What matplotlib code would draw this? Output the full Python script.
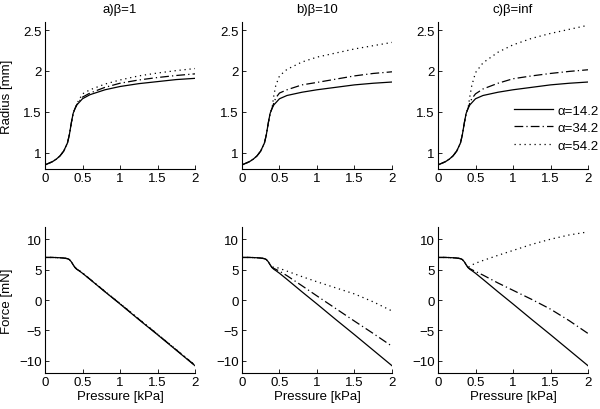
import matplotlib
matplotlib.use("Agg")
import matplotlib.pyplot as plt

plt.rcParams['font.family'] = ['Liberation Sans', 'DejaVu Sans']

titles = ["a)\u03b2=1", "b)\u03b2=10", "c)\u03b2=inf"]
labels = ["\u03b1=14.2", "\u03b1=34.2", "\u03b1=54.2"]

# shared pre-kink part
p_pre = [0.0, 0.05, 0.1, 0.15, 0.2, 0.25, 0.3, 0.325, 0.35, 0.375, 0.4]
r_pre = [0.85, 0.87, 0.89, 0.92, 0.96, 1.02, 1.12, 1.22, 1.36, 1.48, 1.54]
f_pre = [7.0, 7.0, 7.0, 6.98, 6.95, 6.9, 6.8, 6.65, 6.3, 5.8, 5.35]

p_post = [0.425, 0.45, 0.5, 0.6, 0.8, 1.0, 1.25, 1.5, 1.75, 2.0]

# radius after kink [panel][alpha]
r_post = [
    [[1.585, 1.61, 1.66, 1.71, 1.77, 1.81, 1.845, 1.87, 1.895, 1.91],
     [1.59, 1.62, 1.68, 1.73, 1.80, 1.85, 1.89, 1.92, 1.945, 1.965],
     [1.60, 1.64, 1.72, 1.77, 1.84, 1.89, 1.94, 1.975, 2.005, 2.03]],
    [[1.585, 1.61, 1.66, 1.70, 1.74, 1.77, 1.80, 1.83, 1.85, 1.865],
     [1.61, 1.67, 1.73, 1.77, 1.83, 1.86, 1.90, 1.94, 1.97, 1.99],
     [1.70, 1.82, 1.94, 2.02, 2.11, 2.17, 2.22, 2.27, 2.31, 2.35]],
    [[1.585, 1.61, 1.66, 1.70, 1.74, 1.77, 1.80, 1.83, 1.85, 1.865],
     [1.61, 1.66, 1.72, 1.78, 1.85, 1.905, 1.94, 1.97, 1.995, 2.015],
     [1.69, 1.82, 1.98, 2.10, 2.23, 2.32, 2.40, 2.46, 2.51, 2.56]],
]

# force after kink [panel][alpha]
f_post = [
    [[5.05, 4.85, 4.4, 3.4, 1.35, -0.65, -3.2, -5.7, -8.25, -10.8],
     [5.06, 4.87, 4.42, 3.42, 1.38, -0.6, -3.15, -5.65, -8.2, -10.75],
     [5.08, 4.9, 4.45, 3.45, 1.42, -0.55, -3.1, -5.6, -8.15, -10.7]],
    [[5.05, 4.85, 4.4, 3.4, 1.35, -0.65, -3.2, -5.7, -8.25, -10.8],
     [5.2, 5.05, 4.75, 4.0, 2.35, 0.67, -1.4, -3.47, -5.5, -7.6],
     [5.45, 5.4, 5.2, 4.75, 3.85, 3.0, 2.0, 1.0, -0.3, -1.8]],
    [[5.05, 4.85, 4.4, 3.4, 1.35, -0.65, -3.2, -5.7, -8.25, -10.8],
     [5.15, 5.0, 4.7, 4.1, 2.8, 1.6, 0.1, -1.5, -3.4, -5.5],
     [5.55, 5.75, 6.05, 6.5, 7.35, 8.15, 9.15, 10.0, 10.7, 11.2]],
]

styles = ['-', (0, (7, 2.5, 1, 2.5)), (0, (1, 3))]
lefts = [0.075, 0.4033, 0.73]
w = 0.25
top_b, top_h = 0.5854, 0.3585
bot_b, bot_h = 0.0878, 0.356

fig = plt.figure(figsize=(6.0, 4.1), dpi=100)

def style_ax(ax):
    for s in ['top', 'right']:
        ax.spines[s].set_visible(False)
    for s in ['left', 'bottom']:
        ax.spines[s].set_linewidth(0.8)
    ax.tick_params(direction='in', length=3, width=0.6, labelsize=9.5, pad=2.5)
    ax.set_xlim(0, 2)
    ax.set_xticks([0, 0.5, 1, 1.5, 2])
    ax.set_xticklabels(['0', '0.5', '1', '1.5', '2'])

for i in range(3):
    ax = fig.add_axes([lefts[i], top_b, w, top_h])
    for j in range(3):
        ax.plot(p_pre + p_post, r_pre + r_post[i][j], linestyle=styles[j],
                color='black', lw=0.9, label=labels[j])
    style_ax(ax)
    ax.set_ylim(0.8, 2.6)
    ax.set_yticks([1, 1.5, 2, 2.5])
    ax.set_yticklabels(['1', '1.5', '2', '2.5'])
    ax.set_title(titles[i], fontsize=9.5, pad=7)
    if i == 0:
        ax.set_ylabel('Radius [mm]', fontsize=9.5)
        ax.yaxis.set_label_coords(-0.215, 0.5)
    if i == 2:
        ax.legend(loc='upper left', bbox_to_anchor=(0.505, 0.44), frameon=False,
                  fontsize=9.5, handlelength=3.0, handletextpad=0.3,
                  labelspacing=0.4, borderpad=0, borderaxespad=0)

    bx = fig.add_axes([lefts[i], bot_b, w, bot_h])
    for j in range(3):
        bx.plot(p_pre + p_post, f_pre + f_post[i][j], linestyle=styles[j],
                color='black', lw=0.9)
    style_ax(bx)
    bx.set_ylim(-12, 12)
    bx.set_yticks([-10, -5, 0, 5, 10])
    bx.set_yticklabels(['\u221210', '\u22125', '0', '5', '10'])
    bx.set_xlabel('Pressure [kPa]', fontsize=9.5, labelpad=1)
    if i == 0:
        bx.set_ylabel('Force [mN]', fontsize=9.5)
        bx.yaxis.set_label_coords(-0.215, 0.5)

fig.savefig('out.png', dpi=100)
